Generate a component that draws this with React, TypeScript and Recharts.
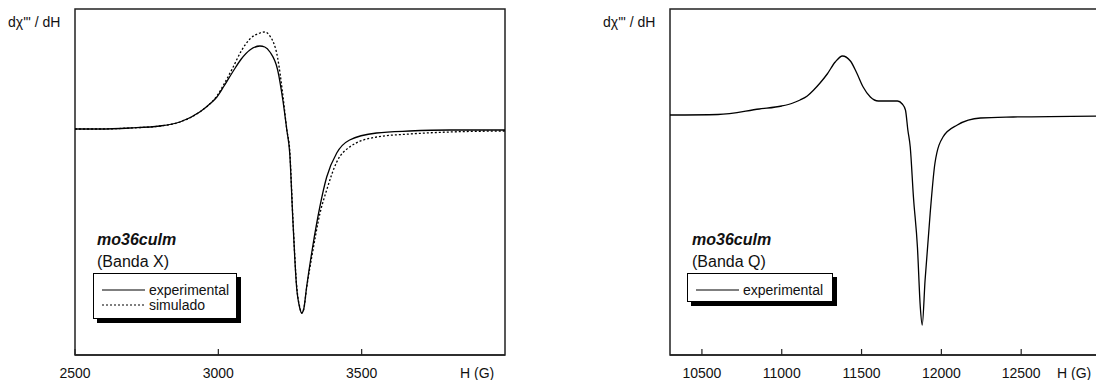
import { LineChart, Line, XAxis, YAxis, ReferenceArea } from "recharts";

// Banda X — field (G) and signal (arb. units, baseline 0)
const fieldX = [
  2500, 2587, 2692, 2796, 2866, 2935, 2970, 2995, 3020, 3050, 3080, 3110, 3145, 3162, 3180, 3207, 3225, 3239,
  3249, 3260, 3273, 3284, 3291, 3298, 3308, 3329, 3354, 3378, 3413, 3458, 3552, 3667, 3807, 4000,
];
const expX = [
  1, 1, 2, 4, 8, 18, 26, 33, 44, 58, 71, 80, 84, 83, 78, 60, 30, 0,
  -23, -90, -157, -178, -183, -179, -157, -117, -77, -47, -23, -10, -3, -1, 0, 0,
];
const simX = [
  1, 1, 2, 4, 8, 18, 26, 34, 46, 62, 79, 91, 97, 98, 94, 72, 35, 0,
  -20, -88, -155, -177, -183, -179, -158, -122, -84, -60, -32, -17, -7, -4, -2, -1,
];
const ticksX = [2500, 3000, 3500];

// Banda Q
const fieldQ = [
  10300, 10600, 10860, 11000, 11070, 11115, 11160, 11200, 11240, 11285, 11335, 11380, 11430, 11470, 11510,
  11555, 11605, 11660, 11725, 11755, 11775, 11790, 11805, 11825, 11850, 11868, 11880, 11898,
  11930, 11960, 12010, 12100, 12245, 12450, 13000,
];
const expQ = [
  1, 1.5, 7, 10, 13, 16, 20, 26, 33, 42, 54, 60, 55, 43, 29,
  19, 15, 15, 15, 12, 6, -14, -31, -81, -131, -191, -209, -164,
  -97, -47, -21, -9, -2, -1, 0,
];
const ticksQ = [10500, 11000, 11500, 12000, 12500];

const dataX = fieldX.map((h, i) => ({ h, exp: expX[i], sim: simX[i] }));
const dataQ = fieldQ.map((h, i) => ({ h, exp: expQ[i] }));

const FONT = '"Liberation Sans", Arial, sans-serif';
const INK = "#111";

const InsideTick = (props: any) => {
  const { x, y, payload } = props;
  return (
    <g>
      <line x1={x} x2={x} y1={y} y2={y - 6} stroke="#222" strokeWidth={1.2} />
      <text x={x} y={y + 23} textAnchor="middle" fontSize={14} fontFamily={FONT} fill={INK}>
        {payload.value}
      </text>
    </g>
  );
};

const abs = (left: number, top: number, extra: any = {}) => ({
  position: "absolute" as const,
  left,
  top,
  whiteSpace: "nowrap" as const,
  ...extra,
});

function LegendBox({ left, top, width, height, rows }: any) {
  return (
    <div
      style={abs(left, top, {
        width,
        height,
        boxSizing: "border-box",
        border: "1px solid #000",
        background: "#fff",
        boxShadow: "4px 4px 0 #000",
      })}
    >
      {rows.map((r: any, i: number) => (
        <div key={r.label} style={abs(8, 8 + i * 15, { height: 14, fontSize: 14, lineHeight: "14px", color: INK })}>
          <svg width={44} height={14} style={{ position: "absolute", left: 0, top: 0 }}>
            <line x1={0} x2={43} y1={8} y2={8} stroke="#000" strokeWidth={1.2} strokeDasharray={r.dash} />
          </svg>
          <span style={{ position: "absolute", left: 47, top: 1 }}>{r.label}</span>
        </div>
      ))}
    </div>
  );
}

export default function App() {
  return (
    <div
      style={{
        position: "absolute",
        left: 0,
        top: 0,
        width: 1096,
        height: 380,
        overflow: "hidden",
        background: "#fff",
        fontFamily: FONT,
        color: INK,
      }}
    >
      <div style={abs(0, 0)}>
        <LineChart width={520} height={380} data={dataX} margin={{ top: 9, right: 15, bottom: 24, left: 75 }}>
          <XAxis
            dataKey="h"
            type="number"
            domain={[2500, 4000]}
            ticks={ticksX}
            interval={0}
            allowDataOverflow
            height={1}
            tickSize={0}
            tickMargin={0}
            tickLine={false}
            axisLine={{ stroke: "#222", strokeWidth: 1.5 }}
            tick={<InsideTick />}
          />
          <YAxis hide type="number" domain={[-225, 121]} allowDataOverflow />
          <ReferenceArea x1={2500} x2={4000} y1={-225} y2={121} fill="none" stroke="#222" strokeWidth={1.5} />
          <Line type="monotone" dataKey="sim" stroke="#000" strokeWidth={1.3} strokeDasharray="2 2" dot={false} isAnimationActive={false} />
          <Line type="monotone" dataKey="exp" stroke="#000" strokeWidth={1.3} dot={false} isAnimationActive={false} />
        </LineChart>
      </div>

      <div style={abs(600, 0)}>
        <LineChart width={520} height={380} data={dataQ} margin={{ top: 9, right: 19, bottom: 24, left: 70 }}>
          <XAxis
            dataKey="h"
            type="number"
            domain={[10300, 13000]}
            ticks={ticksQ}
            interval={0}
            allowDataOverflow
            height={1}
            tickSize={0}
            tickMargin={0}
            tickLine={false}
            axisLine={{ stroke: "#222", strokeWidth: 1.5 }}
            tick={<InsideTick />}
          />
          <YAxis hide type="number" domain={[-239, 107]} allowDataOverflow />
          <ReferenceArea x1={10300} x2={13000} y1={-239} y2={107} fill="none" stroke="#222" strokeWidth={1.5} />
          <Line type="monotone" dataKey="exp" stroke="#000" strokeWidth={1.3} dot={false} isAnimationActive={false} />
        </LineChart>
      </div>

      {/* axis titles */}
      <div style={abs(8, 14, { fontSize: 14, lineHeight: "16px" })}>dχ'" / dH</div>
      <div style={abs(603, 14, { fontSize: 14, lineHeight: "16px" })}>dχ'" / dH</div>
      <div style={abs(460, 365, { fontSize: 14, lineHeight: "16px" })}>H (G)</div>
      <div style={abs(1057, 365, { fontSize: 14, lineHeight: "16px" })}>H (G)</div>

      {/* sample annotations */}
      <div style={abs(97, 231, { fontSize: 16, lineHeight: "18px", fontWeight: "bold", fontStyle: "italic" })}>mo36culm</div>
      <div style={abs(97, 253, { fontSize: 16, lineHeight: "18px" })}>(Banda X)</div>
      <div style={abs(692, 231, { fontSize: 16, lineHeight: "18px", fontWeight: "bold", fontStyle: "italic" })}>mo36culm</div>
      <div style={abs(692, 253, { fontSize: 16, lineHeight: "18px" })}>(Banda Q)</div>

      <LegendBox
        left={93}
        top={273}
        width={144}
        height={46}
        rows={[
          { label: "experimental", dash: undefined },
          { label: "simulado", dash: "2 2" },
        ]}
      />
      <LegendBox left={687} top={273} width={146} height={29} rows={[{ label: "experimental", dash: undefined }]} />
    </div>
  );
}
